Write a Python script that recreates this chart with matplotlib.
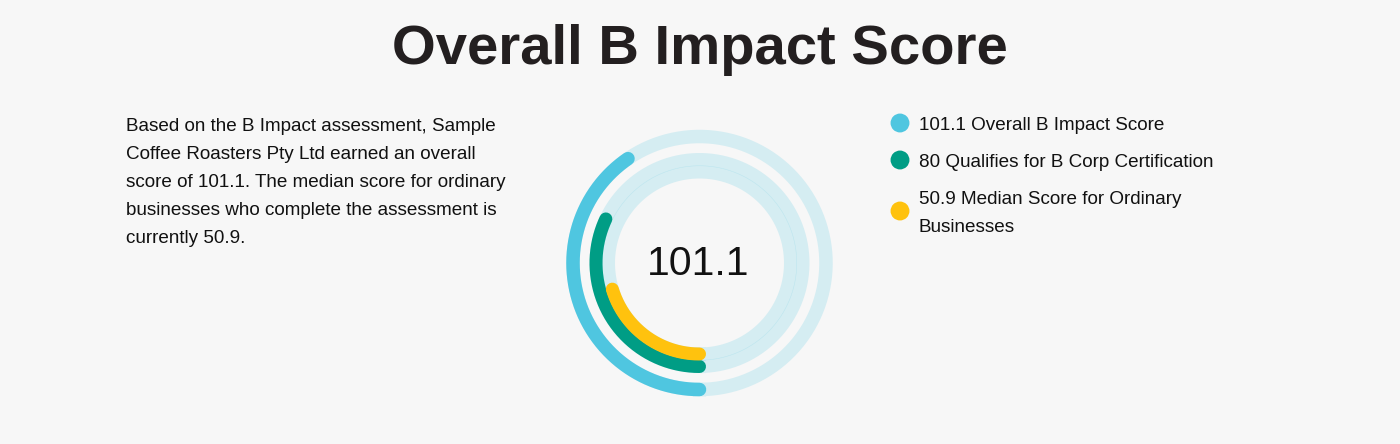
import matplotlib.pyplot as plt
import numpy as np

# datos
max_score = 250
scores = [101.1, 80, 50.9]
labels = [["101.1 Overall B Impact Score"],
          ["80 Qualifies for B Corp Certification"],
          ["50.9 Median Score for Ordinary", "Businesses"]]
colors = ["#4FC6E0", "#009D85", "#FFC20E"]
radios = [126.5, 103.5, 91]
anchos = [13.5, 13, 13]

titulo = "Overall B Impact Score"
texto = ["Based on the B Impact assessment, Sample",
         "Coffee Roasters Pty Ltd earned an overall",
         "score of 101.1. The median score for ordinary",
         "businesses who complete the assessment is",
         "currently 50.9."]

plt.rcParams['font.family'] = ['Liberation Sans', 'DejaVu Sans']
W, H = 1400, 444
fig = plt.figure(figsize=(W / 100, H / 100), dpi=100)
fig.patch.set_facecolor("#F7F7F7")

# capa de texto en pixeles
ax = fig.add_axes([0, 0, 1, 1])
ax.set_xlim(0, W)
ax.set_ylim(H, 0)
ax.axis("off")

ax.text(700, 64, titulo, ha="center", va="baseline", fontsize=40.5,
        fontweight="bold", color="#231F20")

for i, linea in enumerate(texto):
    ax.text(126, 124 + 28 * i, linea, ha="left", va="center_baseline",
            fontsize=13.6, color="#111111")

leg_y = [123, 160, 211]
for y, lab, c in zip(leg_y, labels, colors):
    ax.scatter([900], [y], s=185, color=c, edgecolors="none")
    y0 = y - 14 * (len(lab) - 1)
    for j, linea in enumerate(lab):
        ax.text(919, y0 + 28 * j, linea, ha="left", va="center_baseline",
                fontsize=13.6, color="#111111")

# anillos
cx, cy, R = 699.5, H - 263, 140
pax = fig.add_axes([(cx - R) / W, (cy - R) / H, 2 * R / W, 2 * R / H],
                   projection="polar")
pax.set_facecolor("none")
pax.set_theta_zero_location("S")
pax.set_theta_direction(-1)
pax.set_ylim(0, R)
pax.axis("off")

full = np.linspace(0, 2 * np.pi, 400)
for r, w in zip(radios, anchos):
    pax.plot(full, np.full_like(full, r), color="#4FC6E0", alpha=0.2,
             lw=w * 0.72)
for s, r, w, c in zip(scores, radios, anchos, colors):
    th = np.linspace(0, s / max_score * 2 * np.pi, 300)
    pax.plot(th, np.full_like(th, r), color=c, lw=w * 0.72,
             solid_capstyle="round")

ax.text(698, 275, f"{scores[0]}", ha="center", va="baseline", fontsize=29.5,
        color="#111111", zorder=5)

fig.savefig("out.png", dpi=100, facecolor=fig.get_facecolor())
